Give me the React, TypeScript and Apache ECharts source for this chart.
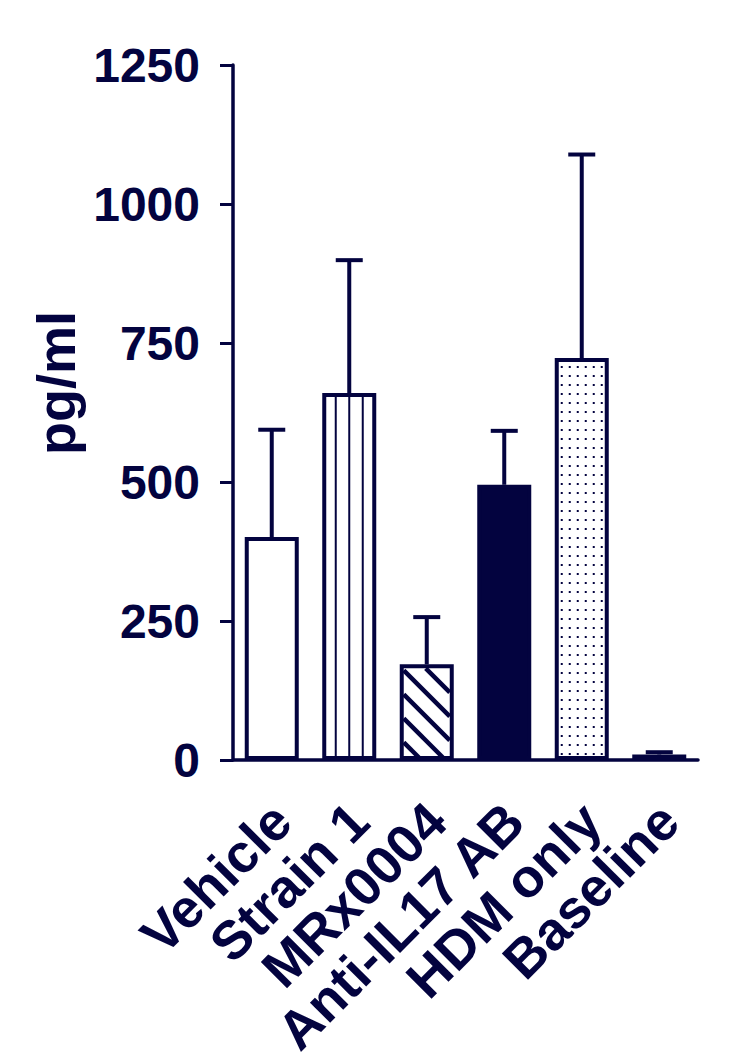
import React, { useEffect, useRef } from "react";
import * as echarts from "echarts";

// ---- data ----
const categories = ["Vehicle", "Strain 1", "MRx0004", "Anti-IL17 AB", "HDM only", "Baseline"];
const meanValues = [401, 660, 172, 495, 723, 10];
const sdValues = [193, 239, 85, 97, 366, 4];
const yTickValues = [0, 250, 500, 750, 1000, 1250];
const yAxisName = "pg/ml";
const titleFragment = "g";

// ---- style ----
const NAVY = "#03033F";
const FONT = "'Liberation Sans', Arial, sans-serif";
const BAR_W = 54;
const BORDER = 4;
const barPatterns = ["open", "vertical", "diagonal", "solid", "dots", "open"];

export default function App() {
  const ref = useRef<HTMLDivElement>(null);

  useEffect(() => {
    document.body.style.margin = "0";
    const chart = echarts.init(ref.current!, null, { renderer: "svg" });

    const patternItem = (params: any, api: any) => {
      const i = api.value(0);
      const v = api.value(1);
      const [cx, yTop] = api.coord([i, v]);
      const [, yBot] = api.coord([i, 0]);
      const half = BAR_W / 2 - BORDER;
      const x0 = cx - half, x1 = cx + half;
      const y0 = yTop + BORDER, y1 = yBot - BORDER / 2;
      const children: any[] = [];
      const p = barPatterns[i];
      if (p === "vertical") {
        for (const off of [-13.5, 0, 13.5]) {
          children.push({
            type: "line",
            shape: { x1: cx + off, y1: y0, x2: cx + off, y2: y1 },
            style: { stroke: NAVY, lineWidth: 2 },
          });
        }
      } else if (p === "diagonal") {
        const period = 24;
        for (let b = y0 + 2 - period * 4; b < y1 + 1; b += period) {
          const xs = Math.max(x0, x0 + (y0 - b));
          const xe = Math.min(x1, x0 + (y1 - b));
          if (xe > xs) {
            children.push({
              type: "line",
              shape: { x1: xs, y1: xs - x0 + b, x2: xe, y2: xe - x0 + b },
              style: { stroke: NAVY, lineWidth: 4.5 },
            });
          }
        }
      } else if (p === "dots") {
        for (let y = y0 + 5; y < y1 - 2; y += 9) {
          for (let j = 0; j < 6; j++) {
            const x = x0 + 3 + 8 * j;
            if (x > x1 - 1) continue;
            children.push({
              type: "rect",
              shape: { x: x - 1, y: y - 1, width: 2, height: 2 },
              style: { fill: NAVY },
            });
          }
        }
      }
      return { type: "group", children };
    };

    const errorItem = (params: any, api: any) => {
      const i = api.value(0);
      const [cx, yMean] = api.coord([i, api.value(1)]);
      const [, yTop] = api.coord([i, api.value(2)]);
      return {
        type: "group",
        children: [
          {
            type: "line",
            shape: { x1: cx, y1: yMean, x2: cx, y2: yTop },
            style: { stroke: NAVY, lineWidth: 4 },
          },
          {
            type: "line",
            shape: { x1: cx - 13.5, y1: yTop, x2: cx + 13.5, y2: yTop },
            style: { stroke: NAVY, lineWidth: 4 },
          },
        ],
      };
    };

    chart.setOption({
      animation: false,
      backgroundColor: "#ffffff",
      grid: {
        left: 233,
        right: 44,
        top: 65,
        bottom: 301,
        containLabel: false,
        outerBoundsMode: "none",
      },
      xAxis: {
        type: "category",
        data: categories,
        boundaryGap: true,
        axisLine: { lineStyle: { color: NAVY, width: 3.5 } },
        axisTick: { alignWithLabel: true, length: 13, lineStyle: { color: NAVY, width: 3 } },
        axisLabel: {
          rotate: 45,
          interval: 0,
          align: "right",
          verticalAlign: "top",
          lineHeight: 28,
          margin: 42,
          color: NAVY,
          fontSize: 54,
          fontWeight: "bold",
          fontFamily: FONT,
        },
      },
      yAxis: {
        type: "value",
        min: yTickValues[0],
        max: yTickValues[yTickValues.length - 1],
        interval: yTickValues[1] - yTickValues[0],
        splitLine: { show: false },
        axisLine: { show: true, lineStyle: { color: NAVY, width: 3.5 } },
        axisTick: { show: true, length: 13, lineStyle: { color: NAVY, width: 3 } },
        axisLabel: {
          margin: 33,
          color: NAVY,
          fontSize: 48,
          fontWeight: "bold",
          fontFamily: FONT,
          formatter: (v: number) => String(v),
        },
      },
      graphic: [
        {
          type: "text",
          x: 56,
          y: 383,
          rotation: Math.PI / 2,
          style: {
            text: yAxisName,
            align: "center",
            verticalAlign: "middle",
            fill: NAVY,
            font: `bold 54px ${FONT}`,
          },
        },
        {
          type: "text",
          x: 254,
          y: -8,
          style: {
            text: titleFragment,
            align: "center",
            verticalAlign: "bottom",
            fill: NAVY,
            font: `bold 72px ${FONT}`,
          },
        },
      ],
      series: [
        {
          type: "bar",
          barWidth: BAR_W,
          data: meanValues.map((v, i) => ({
            value: v,
            itemStyle: {
              color: barPatterns[i] === "solid" ? NAVY : "#ffffff",
              borderColor: NAVY,
              borderWidth: BORDER,
            },
          })),
          z: 2,
        },
        {
          type: "custom",
          renderItem: patternItem,
          data: meanValues.map((v, i) => [i, v]),
          encode: { x: 0, y: 1 },
          z: 3,
          silent: true,
        },
        {
          type: "custom",
          renderItem: errorItem,
          data: meanValues.map((v, i) => [i, v, v + sdValues[i]]),
          encode: { x: 0, y: [1, 2] },
          z: 1,
          silent: true,
        },
      ],
    });

    return () => chart.dispose();
  }, []);

  return <div ref={ref} style={{ width: 742, height: 1061 }} />;
}
